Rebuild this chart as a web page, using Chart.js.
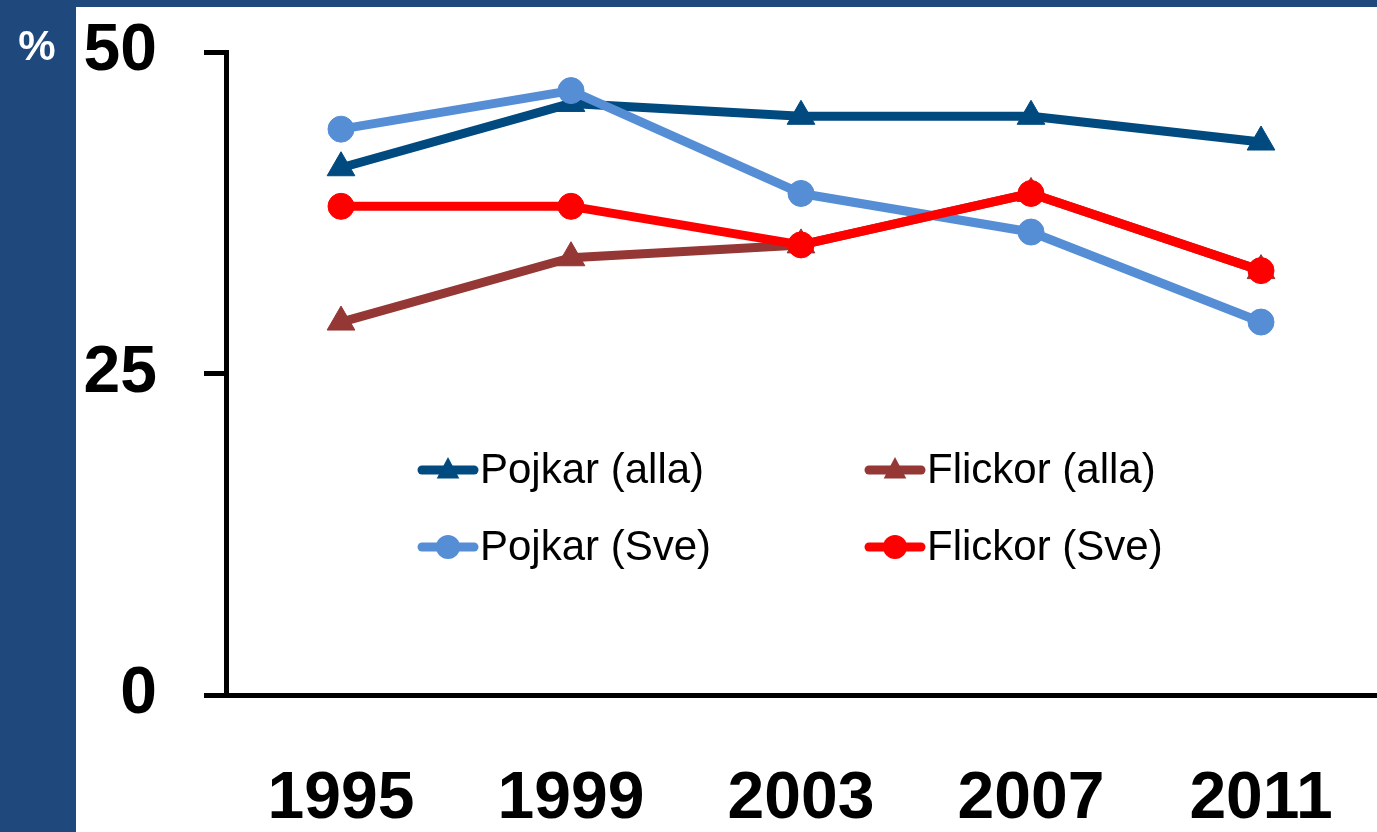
<!DOCTYPE html>
<html lang="sv">
<head>
    <meta charset="UTF-8">
    <title>Pojkar och flickor</title>
    <script src="https://cdn.jsdelivr.net/npm/chart.js"></script>
    <style>
        body {
            margin: 0;
            background: #ffffff;
        }
        canvas {
            display: block;
        }
    </style>
</head>
<body>
    <canvas id="chart" width="1377" height="832"></canvas>

    <script>
        // Data
        const years = ['1995', '1999', '2003', '2007', '2011'];
        const pojkarAlla = [41, 46, 45, 45, 43];
        const flickorAlla = [29, 34, 35, 39, 33];
        const pojkarSve = [44, 47, 39, 36, 29];
        const flickorSve = [38, 38, 35, 39, 33];
        const yTicks = [0, 25, 50];

        const FONT = '"Liberation Sans", Arial, sans-serif';
        const BAND = '#1F497D';

        // Background band, "%" label and legend
        const decorPlugin = {
            id: 'decor',
            beforeDraw(chart) {
                const ctx = chart.ctx;
                ctx.save();
                ctx.fillStyle = BAND;
                ctx.fillRect(0, 0, chart.width, chart.height);
                ctx.fillStyle = '#ffffff';
                ctx.fillRect(76, 7, chart.width - 76, chart.height - 7);
                ctx.fillStyle = '#ffffff';
                ctx.font = 'bold 42px ' + FONT;
                ctx.textAlign = 'center';
                ctx.textBaseline = 'middle';
                ctx.fillText('%', 37, 48);
                ctx.restore();
            },
            afterDatasetsDraw(chart) {
                const ctx = chart.ctx;
                // legend layout: [datasetIndex, x, y]
                const items = [[0, 418, 470], [1, 865, 470], [2, 418, 547], [3, 865, 547]];
                ctx.save();
                items.forEach(([i, x, y]) => {
                    const ds = chart.data.datasets[i];
                    ctx.strokeStyle = ds.borderColor;
                    ctx.lineWidth = 9;
                    ctx.lineCap = 'round';
                    ctx.beginPath();
                    ctx.moveTo(x + 4, y);
                    ctx.lineTo(x + 56, y);
                    ctx.stroke();
                    ctx.fillStyle = ds.borderColor;
                    ctx.beginPath();
                    if (ds.pointStyle === 'triangle') {
                        const r = 13;
                        ctx.moveTo(x + 30, y - r);
                        ctx.lineTo(x + 30 + r * 0.87, y + r * 0.5 + 2);
                        ctx.lineTo(x + 30 - r * 0.87, y + r * 0.5 + 2);
                        ctx.closePath();
                    } else {
                        ctx.arc(x + 30, y, 12, 0, Math.PI * 2);
                    }
                    ctx.fill();
                    ctx.fillStyle = '#000000';
                    ctx.font = '42px ' + FONT;
                    ctx.textAlign = 'left';
                    ctx.textBaseline = 'middle';
                    ctx.fillText(ds.label, x + 62, y + 1);
                });
                ctx.restore();
            }
        };

        function lineSet(label, data, color, style, radius, order) {
            return {
                label: label,
                data: data,
                borderColor: color,
                backgroundColor: color,
                borderWidth: 9,
                borderJoinStyle: 'round',
                borderCapStyle: 'round',
                tension: 0,
                pointStyle: style,
                pointRadius: radius,
                pointBorderWidth: 1,
                pointBackgroundColor: color,
                pointBorderColor: color,
                order: order,
                clip: false
            };
        }

        const ctx = document.getElementById('chart').getContext('2d');
        new Chart(ctx, {
            type: 'line',
            data: {
                labels: years,
                datasets: [
                    lineSet('Pojkar (alla)', pojkarAlla, '#004A80', 'triangle', 16, 3),
                    lineSet('Flickor (alla)', flickorAlla, '#953735', 'triangle', 16, 2),
                    lineSet('Pojkar (Sve)', pojkarSve, '#558ED5', 'circle', 13, 1),
                    lineSet('Flickor (Sve)', flickorSve, '#FF0000', 'circle', 13, 0)
                ]
            },
            options: {
                responsive: false,
                animation: false,
                layout: { autoPadding: false, padding: { top: 52, right: 1, left: 0, bottom: 0 } },
                plugins: {
                    legend: { display: false },
                    tooltip: { enabled: false }
                },
                scales: {
                    x: {
                        offset: true,
                        grid: { display: false, drawTicks: false },
                        border: { display: true, width: 5, color: '#000000' },
                        ticks: {
                            color: '#000000',
                            padding: 65,
                            font: { family: FONT, size: 66, weight: 'bold' }
                        },
                        afterFit: s => {
                            s.height = 137;
                            s.paddingLeft = 0;
                            s.paddingRight = 0;
                        }
                    },
                    y: {
                        min: 0,
                        max: 50,
                        afterBuildTicks: s => { s.ticks = yTicks.map(v => ({ value: v })); },
                        grid: {
                            drawOnChartArea: false,
                            drawTicks: true,
                            tickLength: 22,
                            tickWidth: 5,
                            tickColor: '#000000'
                        },
                        border: { display: true, width: 5, color: '#000000' },
                        ticks: {
                            color: '#000000',
                            padding: 47,
                            font: { family: FONT, size: 66, weight: 'bold' }
                        },
                        afterFit: s => {
                            s.width = 226;
                            s.paddingTop = 0;
                            s.paddingBottom = 0;
                        }
                    }
                }
            },
            plugins: [decorPlugin]
        });
    </script>
</body>
</html>
